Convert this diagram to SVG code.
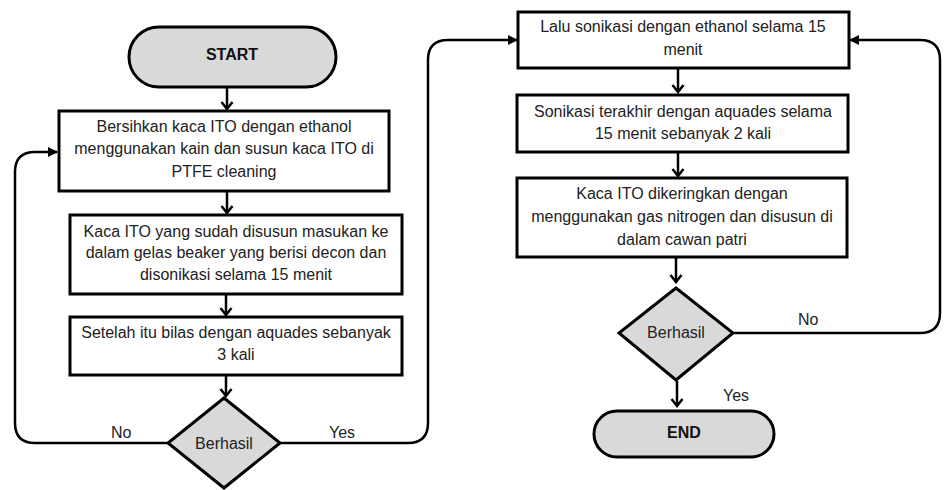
<svg xmlns="http://www.w3.org/2000/svg" width="944" height="490" viewBox="0 0 944 490">
<defs>
<style>
.box{fill:#fff;stroke:#000;stroke-width:3}
.term{fill:#d9d9d9;stroke:#000;stroke-width:3}
.dec{fill:#d9d9d9;stroke:#000;stroke-width:3}
.t{font-family:"Liberation Sans",Arial,sans-serif;font-size:16px;fill:#222;text-anchor:middle}
.b{font-weight:bold;fill:#111}
.lbl{font-family:"Liberation Sans",Arial,sans-serif;font-size:16px;fill:#222}
.c{fill:none;stroke:#000;stroke-width:2.5}
</style>
<marker id="ah" viewBox="0 0 10 10" refX="9" refY="5" markerWidth="4" markerHeight="4" orient="auto" markerUnits="strokeWidth">
<path d="M0,0 L10,5 L0,10 Z" fill="#000"/>
</marker>
<marker id="chev" viewBox="0 0 12 14" refX="10" refY="7" markerWidth="12" markerHeight="14" orient="auto" markerUnits="userSpaceOnUse">
<path d="M3,1.5 L10,7 L3,12.5" fill="none" stroke="#000" stroke-width="2.5" stroke-linejoin="miter"/>
</marker>
</defs>
<rect width="944" height="490" fill="#fff"/>
<g id="connectors">
<path class="c" d="M227,88 V109" marker-end="url(#chev)"/>
<path class="c" d="M227,192 V213" marker-end="url(#chev)"/>
<path class="c" d="M226,295 V315" marker-end="url(#chev)"/>
<path class="c" d="M226,376 V396" marker-end="url(#chev)"/>
<path class="c" d="M168,443 H35 Q15,443 15,423 V172 Q15,152 35,152 H57" marker-end="url(#ah)"/>
<path class="c" d="M280,443 H408 Q428,443 428,423 V60 Q428,40 448,40 H517" marker-end="url(#ah)"/>
<path class="c" d="M678,69 V92" marker-end="url(#chev)"/>
<path class="c" d="M678,153 V176" marker-end="url(#chev)"/>
<path class="c" d="M676,258 V282" marker-end="url(#chev)"/>
<path class="c" d="M734,333 H920 Q940,333 940,313 V60 Q940,40 920,40 H850" marker-end="url(#ah)"/>
<path class="c" d="M677,381 V406" marker-end="url(#chev)"/>
<text class="lbl" x="111" y="438">No</text>
<text class="lbl" x="329" y="438">Yes</text>
<text class="lbl" x="798" y="325">No</text>
<text class="lbl" x="723" y="401">Yes</text>
</g>
<g id="start">
<rect class="term" x="129" y="27" width="207" height="60" rx="30"/>
<text class="t b" x="232" y="60">START</text>
</g>
<g id="step1">
<rect class="box" x="59" y="111" width="330" height="80"/>
<text class="t" x="224" y="132">Bersihkan kaca ITO dengan ethanol</text>
<text class="t" x="224" y="154">menggunakan kain dan susun kaca ITO di</text>
<text class="t" x="224" y="177">PTFE cleaning</text>
</g>
<g id="step2">
<rect class="box" x="70" y="215" width="332" height="79"/>
<text class="t" x="236" y="237">Kaca ITO yang sudah disusun masukan ke</text>
<text class="t" x="236" y="258">dalam gelas beaker yang berisi decon dan</text>
<text class="t" x="236" y="280">disonikasi selama 15 menit</text>
</g>
<g id="step3">
<rect class="box" x="70" y="317" width="332" height="58"/>
<text class="t" x="236" y="338">Setelah itu bilas dengan aquades sebanyak</text>
<text class="t" x="236" y="360">3 kali</text>
</g>
<g id="decision1">
<polygon class="dec" points="224,398 280,443 224,488 168,443"/>
<text class="t" x="224" y="449">Berhasil</text>
</g>
<g id="step4">
<rect class="box" x="518" y="12" width="331" height="56"/>
<text class="t" x="683" y="32">Lalu sonikasi dengan ethanol selama 15</text>
<text class="t" x="683" y="55">menit</text>
</g>
<g id="step5">
<rect class="box" x="517" y="95" width="331" height="57"/>
<text class="t" x="683" y="117">Sonikasi terakhir dengan aquades selama</text>
<text class="t" x="683" y="139">15 menit sebanyak 2 kali</text>
</g>
<g id="step6">
<rect class="box" x="517" y="178" width="330" height="79"/>
<text class="t" x="682" y="199">Kaca ITO dikeringkan dengan</text>
<text class="t" x="682" y="222">menggunakan gas nitrogen dan disusun di</text>
<text class="t" x="682" y="245">dalam cawan patri</text>
</g>
<g id="decision2">
<polygon class="dec" points="676,288 733,333 676,380 619,333"/>
<text class="t" x="676" y="338">Berhasil</text>
</g>
<g id="end">
<rect class="term" x="594" y="411" width="180" height="46" rx="23"/>
<text class="t b" x="684" y="438">END</text>
</g>
</svg>
